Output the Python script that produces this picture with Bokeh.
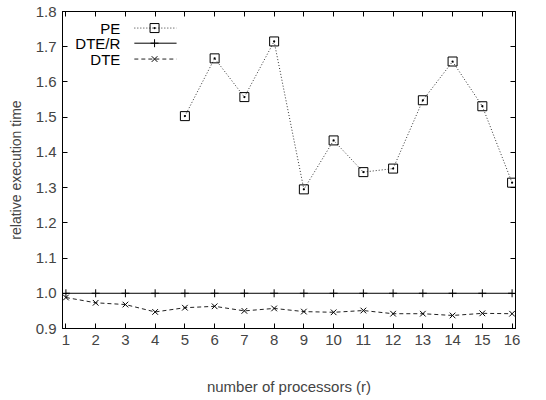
from bokeh.plotting import figure
from bokeh.models import Range1d, FixedTicker, PrintfTickFormatter, LinearAxis, CustomJSTickFormatter
from bokeh.embed import file_html
from bokeh.resources import INLINE
from bokeh.core.properties import value

procs = list(range(1, 17))
pe_procs = list(range(5, 17))
pe = [1.503, 1.667, 1.557, 1.715, 1.295, 1.434, 1.344, 1.354, 1.548, 1.658, 1.531, 1.314]
dte_r = [1.0] * 16
dte = [0.988, 0.973, 0.968, 0.947, 0.959, 0.963, 0.950, 0.957, 0.948, 0.946, 0.951, 0.942, 0.942, 0.937, 0.943, 0.942]
y_ticks = [0.9, 1.0, 1.1, 1.2, 1.3, 1.4, 1.5, 1.6, 1.7, 1.8]
legend_names = ["PE", "DTE/R", "DTE"]

FONT = "Liberation Sans"
TICK_FS = "15px"

p = figure(frame_width=453, frame_height=317, output_backend="svg", toolbar_location=None,
           x_range=Range1d(0.885, 16.115), y_range=Range1d(0.9, 1.8),
           min_border_left=62, min_border_right=14, min_border_top=11, min_border_bottom=62)
p.grid.visible = False
p.outline_line_color = "black"
p.outline_line_width = 1
p.background_fill_color = "white"
p.border_fill_color = "white"

def style_axis(ax, labels=True):
    ax.major_tick_in = 5
    ax.major_tick_out = 0
    ax.minor_tick_in = 0
    ax.minor_tick_out = 0
    ax.axis_line_color = "black"
    ax.major_tick_line_color = "black"
    ax.major_label_text_font = FONT
    ax.major_label_text_font_size = TICK_FS
    ax.axis_label_text_font = FONT
    ax.axis_label_text_font_style = "normal"
    if not labels:
        ax.formatter = CustomJSTickFormatter(code="return ''")
        ax.major_label_standoff = 0

xa = p.xaxis[0]
xa.ticker = FixedTicker(ticks=procs)
style_axis(xa)
xa.axis_label = "number of processors (r)"
xa.axis_label_text_font_size = "15px"
xa.major_label_standoff = 6
xa.axis_label_standoff = 30

ya = p.yaxis[0]
ya.ticker = FixedTicker(ticks=y_ticks)
ya.formatter = PrintfTickFormatter(format="%.1f")
style_axis(ya)
ya.axis_label = "relative execution time"
ya.axis_label_text_font_size = "14px"
ya.major_label_standoff = 6
ya.axis_label_standoff = 9

top = LinearAxis(ticker=FixedTicker(ticks=procs))
style_axis(top, labels=False)
p.add_layout(top, "above")
right = LinearAxis(ticker=FixedTicker(ticks=y_ticks))
style_axis(right, labels=False)
p.add_layout(right, "right")

# series
p.line(pe_procs, pe, line_color="#333333", line_dash="1 2", line_width=1)
p.scatter(pe_procs, pe, marker="square_dot", size=9, fill_color=None, line_color="black", line_width=1)
p.line(procs, dte_r, line_color="black", line_width=1)
p.scatter(procs, dte_r, marker="cross", size=8, line_color="black", line_width=1)
p.line(procs, dte, line_color="#222222", line_dash="4 3", line_width=1)
p.scatter(procs, dte, marker="x", size=8, line_color="black", line_width=1)

# legend (gnuplot style: text then sample)
leg_y = [1.753, 1.710, 1.665]
tx = 2.83
x0, x1, xm = 3.30, 4.72, 3.98
p.text(x=[tx]*3, y=leg_y, text=legend_names, text_align="right", text_baseline="middle",
       text_font=value(FONT), text_font_size="15px", text_color="black")
p.line([x0, x1], [leg_y[0]]*2, line_color="#333333", line_dash="1 2")
p.scatter([xm], [leg_y[0]], marker="square_dot", size=9, fill_color=None, line_color="black")
p.line([x0, x1], [leg_y[1]]*2, line_color="black")
p.scatter([xm], [leg_y[1]], marker="cross", size=8, line_color="black")
p.line([x0, x1], [leg_y[2]]*2, line_color="#222222", line_dash="4 3")
p.scatter([xm], [leg_y[2]], marker="x", size=8, line_color="black")

open("out.html", "w").write(file_html(p, INLINE))
